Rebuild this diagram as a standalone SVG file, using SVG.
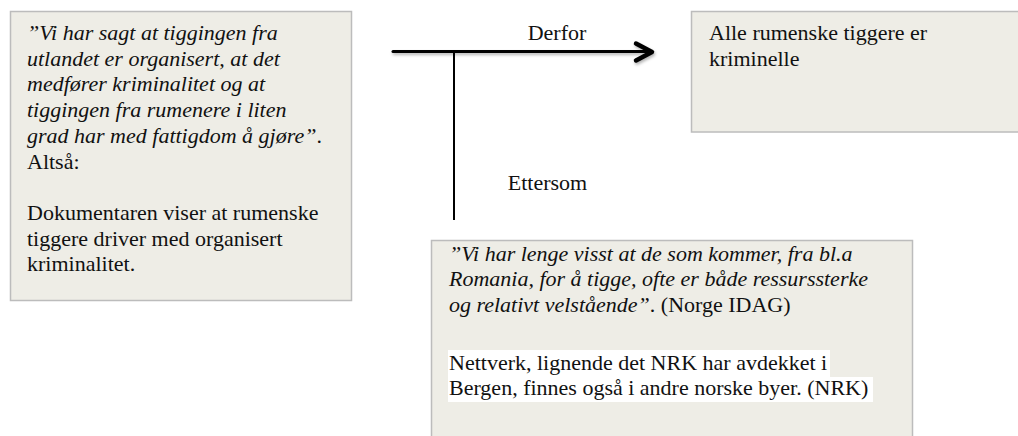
<svg xmlns="http://www.w3.org/2000/svg" width="1018" height="436" viewBox="0 0 1018 436">
<defs>
<style>
.box{fill:#eeede6;stroke:#bcbcbc;stroke-width:1.5}
.t{font-size:22px;fill:#111}
.i{font-style:italic}
.ln{stroke:#000;fill:none;stroke-linecap:round;stroke-linejoin:round}
</style>
<filter id="sh" x="-10%" y="-50%" width="120%" height="200%">
<feDropShadow dx="1" dy="2" stdDeviation="1.5" flood-color="#000" flood-opacity="0.3"/>
</filter>
</defs>
<rect width="1018" height="436" fill="#fff"/>
<g font-family="Liberation Serif, Times New Roman, serif">
<g id="premise">
<rect class="box" x="10.5" y="11.5" width="341" height="289"/>
<text class="t" x="27" y="40"><tspan class="i">”Vi har sagt at tiggingen fra</tspan></text>
<text class="t i" x="27" y="65.7">utlandet er organisert, at det</text>
<text class="t i" x="27" y="91.4">medfører kriminalitet og at</text>
<text class="t i" x="27" y="117.1">tiggingen fra rumenere i liten</text>
<text class="t" x="27" y="142.8"><tspan class="i">grad har med fattigdom å gjøre”</tspan>.</text>
<text class="t" x="27" y="168.5">Altså:</text>
<text class="t" x="27" y="219.9">Dokumentaren viser at rumenske</text>
<text class="t" x="27" y="245.6">tiggere driver med organisert</text>
<text class="t" x="27" y="271.3">kriminalitet.</text>
</g>
<g id="conclusion">
<rect class="box" x="691.5" y="11.5" width="340" height="120.5"/>
<text class="t" x="709" y="40">Alle rumenske tiggere er</text>
<text class="t" x="709" y="65.7">kriminelle</text>
</g>
<g id="warrant">
<rect class="box" x="431.5" y="240.5" width="481" height="210"/>
<text class="t i" x="449" y="260.7">”Vi har lenge visst at de som kommer, fra bl.a</text>
<text class="t i" x="449" y="286.2">Romania, for å tigge, ofte er både ressurssterke</text>
<text class="t" x="449" y="311.7"><tspan class="i">og relativt velstående”</tspan>. (Norge IDAG)</text>
<rect x="448" y="350" width="382" height="27" fill="#fff"/>
<rect x="448" y="377" width="425" height="25" fill="#fff"/>
<text class="t" x="449" y="369.5">Nettverk, lignende det NRK har avdekket i</text>
<text class="t" x="449" y="395">Bergen, finnes også i andre norske byer. (NRK)</text>
</g>
<g id="connectors">
<g filter="url(#sh)">
<line class="ln" x1="393" y1="51.5" x2="651" y2="51.5" stroke-width="3"/>
<polyline class="ln" points="636,43.5 652,52 636,60.5" stroke-width="4.5"/>
</g>
<line x1="454" y1="52" x2="454" y2="220" stroke="#000" stroke-width="2"/>
<text class="t" x="557" y="40" text-anchor="middle">Derfor</text>
<text class="t" x="547.5" y="190" text-anchor="middle">Ettersom</text>
</g>
</g>
</svg>
